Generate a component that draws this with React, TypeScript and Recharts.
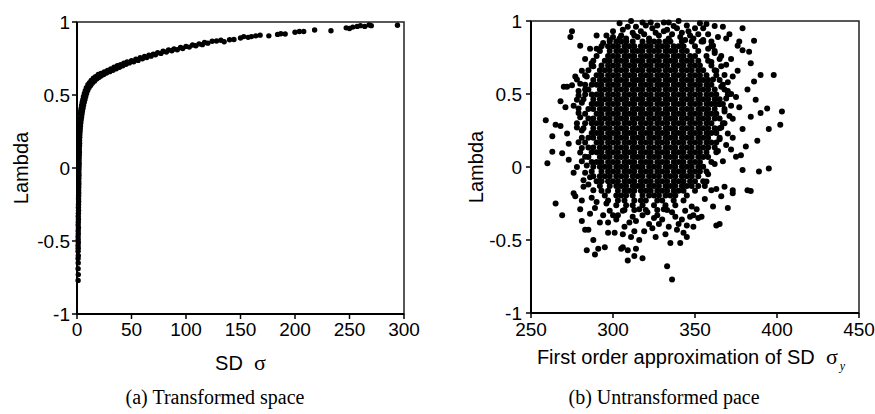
import React from 'react';
import { ScatterChart, Scatter, XAxis, YAxis, ReferenceArea, Label } from 'recharts';

// (a) transformed space: SD sigma vs lambda
const leftPoints: [number, number][] = [
  [1, -0.77], [1.2, -0.73], [1, -0.69], [1.1, -0.65], [1, -0.62], [1.2, -0.6], [1, -0.57], [1.1, -0.55],
  [1, -0.53], [1.2, -0.51], [1.1, -0.49], [1, -0.47], [1.2, -0.45], [1.1, -0.43], [1.3, -0.41], [1.1, -0.39],
  [1.2, -0.37], [1.3, -0.35], [1.2, -0.33], [1.3, -0.31], [1.4, -0.29], [1.3, -0.27], [1.4, -0.25], [1.5, -0.23],
  [1.4, -0.21], [1.5, -0.19], [1.6, -0.17], [1.5, -0.15], [1.6, -0.13], [1.7, -0.11], [1.6, -0.09], [1.7, -0.07],
  [1.8, -0.05], [1.7, -0.03], [1.8, -0.01], [1.9, 0.01], [2, 0.03], [1.9, 0.05], [2, 0.07], [2.1, 0.09],
  [2.2, 0.11], [2.1, 0.13], [2.3, 0.15], [2.4, 0.17], [2.3, 0.19], [2.5, 0.21], [2.6, 0.23], [2.8, 0.25],
  [3, 0.27], [3.2, 0.29], [3.5, 0.31], [3.8, 0.33], [2.2, 0.28], [2.4, 0.31], [2.7, 0.34], [3, 0.37],
  [4.2, 0.35], [4.6, 0.37], [3.4, 0.39], [5, 0.39], [3.8, 0.41], [5.5, 0.41], [4.3, 0.43], [6, 0.43],
  [4.8, 0.45], [6.6, 0.45], [5.4, 0.47], [7.3, 0.47], [6, 0.49], [8, 0.49], [6.8, 0.51], [8.8, 0.51],
  [7.6, 0.53], [9.8, 0.53], [8.6, 0.55], [11, 0.55], [10, 0.57], [12.5, 0.565], [11.5, 0.585], [14, 0.58],
  [13, 0.6], [16, 0.595], [15, 0.615], [18, 0.61], [17, 0.625], [20, 0.62], [19.5, 0.64], [22, 0.63],
  [22, 0.648], [24.5, 0.64], [25, 0.658], [27, 0.65], [28, 0.668], [30, 0.66], [31, 0.678], [33, 0.67],
  [34, 0.69], [36, 0.68], [37, 0.7], [39, 0.69], [40, 0.708], [42, 0.7], [43, 0.717], [45, 0.71],
  [46, 0.726], [48, 0.72], [50, 0.735], [52, 0.728], [54, 0.745], [56, 0.737], [58, 0.755], [60, 0.748],
  [62, 0.764], [64, 0.757], [66, 0.772], [68, 0.766], [70, 0.78], [72, 0.775], [74, 0.79], [77, 0.785],
  [79, 0.8], [82, 0.795], [84, 0.808], [87, 0.803], [89, 0.815], [92, 0.81], [95, 0.825], [97, 0.818],
  [100, 0.833], [103, 0.828], [106, 0.842], [109, 0.837], [112, 0.85], [115, 0.845], [117, 0.86], [120, 0.855],
  [124, 0.868], [128, 0.87], [132, 0.875], [135, 0.865], [140, 0.878], [144, 0.88], [150, 0.89], [153, 0.9],
  [157, 0.895], [160, 0.9], [164, 0.905], [168, 0.91], [176, 0.905], [184, 0.915], [187, 0.92], [191, 0.918],
  [200, 0.93], [204, 0.935], [208, 0.935], [218, 0.945], [233, 0.94], [247, 0.96], [250, 0.955], [253, 0.965],
  [257, 0.97], [260, 0.975], [264, 0.97], [268, 0.98], [270, 0.975], [294, 0.978],
];

// (b) untransformed: dense middle read row by row (lambda of the row, then sigma_y values)
const coreRowY = [
  0.86, 0.827, 0.794, 0.761, 0.728, 0.695, 0.662, 0.629, 0.596, 0.563, 0.53, 0.497, 0.464, 0.431, 0.398, 0.365,
  0.332, 0.299, 0.266, 0.233, 0.2, 0.167, 0.134, 0.101, 0.068, 0.035, 0.002, -0.031, -0.064, -0.097, -0.13,
  -0.163, -0.196, -0.229, -0.262, -0.295,
];
const coreRowX = [
  [298, 302, 305, 308, 312, 318, 322, 325, 328, 332, 335, 342, 348, 355],
  [293, 297, 300, 303, 307, 310, 313, 317, 320, 323, 327, 330, 333, 337, 340, 343, 350, 360],
  [292, 298, 302, 305, 308, 312, 315, 318, 322, 325, 328, 332, 335, 338, 342, 345, 352, 362],
  [290, 297, 300, 303, 307, 310, 313, 317, 320, 323, 327, 330, 333, 337, 340, 343, 347, 350, 357],
  [288, 295, 298, 302, 305, 308, 312, 315, 318, 322, 325, 328, 332, 335, 338, 342, 345, 348, 352, 358],
  [287, 293, 297, 300, 303, 307, 310, 313, 317, 320, 323, 327, 330, 333, 337, 340, 343, 347, 350, 353, 360],
  [285, 292, 295, 298, 302, 305, 308, 312, 315, 318, 322, 325, 328, 332, 335, 338, 342, 345, 348, 352, 355, 362],
  [283, 290, 293, 297, 300, 303, 307, 310, 313, 317, 320, 323, 327, 330, 333, 337, 340, 343, 347, 350, 353, 357, 363],
  [288, 292, 295, 298, 302, 305, 308, 312, 315, 318, 322, 325, 328, 332, 335, 338, 342, 345, 348, 352, 355, 358, 365],
  [283, 287, 290, 293, 297, 300, 303, 307, 310, 313, 317, 320, 323, 327, 330, 333, 337, 340, 343, 347, 350, 353, 357, 360, 367],
  [285, 292, 295, 298, 302, 305, 308, 312, 315, 318, 322, 325, 328, 332, 335, 338, 342, 345, 348, 352, 355, 358, 362, 368],
  [283, 287, 290, 293, 297, 300, 303, 307, 310, 313, 317, 320, 323, 327, 330, 333, 337, 340, 343, 347, 350, 353, 357, 360, 363, 370],
  [282, 288, 292, 295, 298, 302, 305, 308, 312, 315, 318, 322, 325, 328, 332, 335, 338, 342, 345, 348, 352, 355, 358, 362, 365],
  [287, 290, 293, 297, 300, 303, 307, 310, 313, 317, 320, 323, 327, 330, 333, 337, 340, 343, 347, 350, 353, 357, 360, 363, 367],
  [285, 288, 292, 295, 298, 302, 305, 308, 312, 315, 318, 322, 325, 328, 332, 335, 338, 342, 345, 348, 352, 355, 358, 362, 368],
  [283, 290, 293, 297, 300, 303, 307, 310, 313, 317, 320, 323, 327, 330, 333, 337, 340, 343, 347, 350, 353, 357, 360, 363],
  [285, 288, 292, 295, 298, 302, 305, 308, 312, 315, 318, 322, 325, 328, 332, 335, 338, 342, 345, 348, 352, 355, 358, 362, 365],
  [283, 287, 290, 293, 297, 300, 303, 307, 310, 313, 317, 320, 323, 327, 330, 333, 337, 340, 343, 347, 350, 353, 357, 360, 367],
  [282, 288, 292, 295, 298, 302, 305, 308, 312, 315, 318, 322, 325, 328, 332, 335, 338, 342, 345, 348, 352, 355, 358, 362, 365],
  [287, 290, 293, 297, 300, 303, 307, 310, 313, 317, 320, 323, 327, 330, 333, 337, 340, 343, 347, 350, 353, 357, 360, 363],
  [285, 288, 292, 295, 298, 302, 305, 308, 312, 315, 318, 322, 325, 328, 332, 335, 338, 342, 345, 348, 352, 355, 358, 365],
  [283, 290, 293, 297, 300, 303, 307, 310, 313, 317, 320, 323, 327, 330, 333, 337, 340, 343, 347, 350, 353, 357, 360, 363],
  [285, 288, 292, 295, 298, 302, 305, 308, 312, 315, 318, 322, 325, 328, 332, 335, 338, 342, 345, 348, 352, 355, 358, 362],
  [287, 290, 293, 297, 300, 303, 307, 310, 313, 317, 320, 323, 327, 330, 333, 337, 340, 343, 347, 350, 353, 357, 363],
  [285, 292, 295, 298, 302, 305, 308, 312, 315, 318, 322, 325, 328, 332, 335, 338, 342, 345, 348, 352, 355, 358],
  [287, 290, 293, 297, 300, 303, 307, 310, 313, 317, 320, 323, 327, 330, 333, 337, 340, 343, 347, 350, 353, 360],
  [288, 292, 295, 298, 302, 305, 308, 312, 315, 318, 322, 325, 328, 332, 335, 338, 342, 345, 348, 352, 355],
  [287, 293, 297, 300, 303, 307, 310, 313, 317, 320, 323, 327, 330, 333, 337, 340, 343, 347, 350, 353, 357],
  [288, 292, 295, 298, 302, 305, 308, 312, 315, 318, 322, 325, 328, 332, 335, 338, 342, 345, 348, 352],
  [290, 293, 297, 300, 303, 307, 310, 313, 317, 320, 323, 327, 330, 333, 337, 340, 343, 347, 350, 355],
  [292, 298, 302, 305, 308, 312, 315, 318, 322, 325, 328, 332, 335, 338, 342, 345, 348, 352],
  [293, 297, 303, 307, 310, 313, 317, 320, 323, 327, 330, 333, 337, 340, 343, 350],
  [295, 302, 305, 308, 312, 318, 322, 325, 328, 332, 335, 338, 345],
  [297, 303, 307, 313, 317, 320, 327, 330, 337, 343],
  [302, 308, 312, 318, 325, 332, 338],
  [307, 313, 320, 327, 333],
];

// (b) loose points along the edges of the dense middle
const fringePoints: [number, number][] = [
  [300, 0.89], [305, 0.9], [308, 0.88], [312, 0.92], [315, 0.89], [319, 0.91], [322, 0.88], [324, 0.95],
  [328, 0.9], [331, 0.93], [334, 0.88], [336, 0.91], [339, 0.95], [341, 0.89], [344, 0.87], [346, 0.93],
  [349, 0.88], [352, 0.91], [354, 0.86], [355, 0.95], [360, 0.86], [314, 0.96], [327, 0.97], [345, 0.97],
  [318, 0.99], [323, 0.99], [334, 0.99], [340, 1.0], [306, 0.94], [298, 0.87],
  [358, 0.81], [362, 0.78], [365, 0.74], [360, 0.72], [366, 0.69], [363, 0.66], [368, 0.63], [361, 0.6],
  [370, 0.58], [366, 0.55], [372, 0.5], [369, 0.47], [365, 0.43], [372, 0.42], [368, 0.38], [373, 0.33],
  [366, 0.27], [370, 0.23], [365, 0.19], [369, 0.15], [364, 0.11], [367, 0.04], [362, 0.02], [358, -0.05],
  [356, -0.13],
  [280, 0.57], [283, 0.53], [279, 0.49], [281, 0.44], [279, 0.4], [280, 0.34], [278, 0.27], [281, 0.25],
  [279, 0.17], [281, 0.13], [283, 0.07], [281, 0.04], [284, 0.01], [283, -0.04], [286, -0.07], [285, -0.12],
  [288, -0.16], [287, -0.21], [290, -0.24], [289, -0.28],
  [300, -0.33], [306, -0.3], [312, -0.34], [316, -0.29], [321, -0.31], [327, -0.33], [331, -0.29], [338, -0.34],
  [344, -0.3], [349, -0.33], [297, -0.38], [307, -0.41], [314, -0.37], [324, -0.42], [328, -0.39], [334, -0.41],
  [340, -0.39], [313, -0.44], [306, -0.46], [332, -0.46], [349, -0.41], [352, -0.35],
];

// (b) the scattered points further out
const outerPoints: [number, number][] = [
  [304, 0.985], [311, 1.0], [320, 0.97], [331, 0.99], [337, 0.965], [353, 0.985], [357, 0.98], [362, 0.965],
  [367, 0.96], [371, 0.91], [317, 0.93], [326, 0.92], [342, 0.92], [347, 0.9], [358, 0.91], [364, 0.89],
  [369, 0.88], [379, 0.95], [377, 0.86], [386, 0.865], [383, 0.79], [379, 0.8], [376, 0.83], [384, 0.71],
  [376, 0.66], [372, 0.74], [369, 0.7], [373, 0.62], [275, 0.93], [274, 0.89], [290, 0.9], [296, 0.9],
  [294, 0.85], [290, 0.81], [286, 0.81], [280, 0.83], [287, 0.71], [288, 0.69], [284, 0.62], [281, 0.66],
  [278, 0.46], [279, 0.52], [277, 0.62], [278, 0.6], [275, 0.56], [272, 0.55], [270, 0.55], [271, 0.41],
  [268, 0.45], [268, 0.28], [265, 0.29], [259, 0.32], [263, 0.21], [263, 0.105], [269, 0.094], [272, 0.23],
  [273, 0.16], [273, 0.05], [276, -0.04], [260, 0.025], [265, -0.25], [269, -0.33], [276, -0.18], [277, -0.2],
  [280, -0.29], [281, -0.37], [283, -0.43], [284, -0.57], [288, -0.5], [289, -0.6], [291, -0.56], [295, -0.55],
  [297, -0.45], [294, -0.33], [296, -0.25], [301, -0.45], [302, -0.36], [305, -0.56], [306, -0.55], [309, -0.64],
  [309, -0.57], [313, -0.61], [318, -0.625], [314, -0.56], [311, -0.48], [316, -0.5], [319, -0.44], [322, -0.39],
  [326, -0.48], [330, -0.36], [333, -0.68], [336, -0.77], [335, -0.52], [341, -0.52], [343, -0.45], [345, -0.48],
  [339, -0.43], [345, -0.4], [347, -0.34], [351, -0.29], [354, -0.34], [363, -0.4], [365, -0.39], [370, -0.28],
  [373, -0.16], [373, -0.18], [368, -0.135], [363, -0.15], [360, -0.16], [357, -0.1], [382, -0.16], [384, -0.165],
  [395, -0.01], [389, -0.03], [379, -0.02], [388, 0.18], [395, 0.26], [402, 0.29], [403, 0.38], [394, 0.4],
  [390, 0.37], [384, 0.345], [387, 0.46], [382, 0.53], [386, 0.585], [390, 0.63], [398, 0.63], [375, 0.48],
  [377, 0.41], [379, 0.26], [381, 0.14], [378, 0.08], [375, 0.07], [372, 0.12], [282, -0.09], [282, -0.135],
  [281, -0.23], [286, -0.32], [285, -0.43], [292, -0.38], [298, -0.3], [303, -0.33], [310, -0.38], [318, -0.33],
  [325, -0.35], [336, -0.31], [342, -0.36], [348, -0.27], [356, -0.22], [361, -0.27], [366, -0.2], [368, 0.3],
  [371, 0.35], [373, 0.2], [370, 0.52], [366, 0.76], [361, 0.83], [355, 0.87], [350, 0.95], [333, 0.94],
  [313, 0.9], [304, 0.88], [300, 0.93], [309, 0.96], [279, 0.37], [278, 0.3], [280, 0.1], [278, 0.0],
  [281, 0.2], [276, 0.42], [283, 0.74],
];

const leftTicksX = [0, 50, 100, 150, 200, 250, 300];
const rightTicksX = [250, 300, 350, 400, 450];
const lambdaTicks = [-1, -0.5, 0, 0.5, 1];

const leftData = leftPoints.map(([x, y]) => ({ x, y }));
const rightData = [
  ...coreRowY.flatMap((y, i) => coreRowX[i].map((x) => ({ x, y }))),
  ...fringePoints.map(([x, y]) => ({ x, y })),
  ...outerPoints.map(([x, y]) => ({ x, y })),
];

const sans = '"Liberation Sans", Arial, sans-serif';
const serif = '"Liberation Serif", "Times New Roman", serif';
const tickStyle = { fill: '#000', fontSize: 19, fontFamily: sans };

const SmallDot = (props: any) => <circle cx={props.cx} cy={props.cy} r={2.7} fill="#000" />;
const Dot = (props: any) => <circle cx={props.cx} cy={props.cy} r={3} fill="#000" />;

const lambdaLabel = (dx: number) => (props: any) => {
  const vb = props.viewBox;
  const cx = vb.x + dx;
  const cy = vb.y + vb.height / 2;
  return (
    <text x={cx} y={cy} transform={`rotate(-90, ${cx}, ${cy})`} textAnchor="middle" dominantBaseline="central"
      fontSize={20} fontFamily={sans} fill="#000">Lambda</text>
  );
};

const sdLabel = (props: any) => {
  const vb = props.viewBox;
  return (
    <text x={vb.x + vb.width / 2} y={vb.y + 56} textAnchor="middle" fontSize={20} fontFamily={sans} fill="#000">
      SD{'\u00a0\u00a0'}<tspan fontFamily={serif} fontSize={22}>σ</tspan>
    </text>
  );
};

const approxLabel = (props: any) => {
  const vb = props.viewBox;
  return (
    <text x={vb.x + vb.width / 2 - 4} y={vb.y + 51} textAnchor="middle" fontSize={20} fontFamily={sans} fill="#000">
      First order approximation of SD{'\u00a0\u00a0'}
      <tspan fontFamily={serif} fontSize={22}>σ</tspan>
      <tspan fontFamily={serif} fontStyle="italic" fontSize={12} dx={2} dy={6}>y</tspan>
    </text>
  );
};

const axisProps = {
  type: 'number' as const,
  axisLine: { stroke: '#000', strokeWidth: 2 },
  tickLine: { stroke: '#000', strokeWidth: 1.5 },
  tick: tickStyle,
  tickSize: 5,
};

const App = () => (
  <div style={{ position: 'absolute', left: 0, top: 0, width: 875, height: 414, background: '#fff' }}>
    <div style={{ position: 'absolute', left: 0, top: 0 }}>
      <ScatterChart width={440} height={380} margin={{ top: 22, right: 36, bottom: 36, left: 37 }}>
        <XAxis dataKey="x" {...axisProps} domain={[0, 300]} ticks={leftTicksX} height={30} interval={0} tickMargin={4}>
          <Label content={sdLabel} />
        </XAxis>
        <YAxis dataKey="y" {...axisProps} domain={[-1, 1]} ticks={lambdaTicks} width={40} interval={0}
          tickFormatter={(v) => String(v)}>
          <Label content={lambdaLabel(-16)} />
        </YAxis>
        <ReferenceArea x1={0} x2={300} y1={-1} y2={1} fill="none" stroke="#222" strokeWidth={1.5} />
        <Scatter data={leftData} shape={SmallDot} isAnimationActive={false} />
      </ScatterChart>
    </div>
    <div style={{ position: 'absolute', left: 440, top: 0 }}>
      <ScatterChart width={435} height={380} margin={{ top: 21, right: 16, bottom: 37, left: 51 }}>
        <XAxis dataKey="x" {...axisProps} domain={[250, 450]} ticks={rightTicksX} height={30} interval={0} tickMargin={5}>
          <Label content={approxLabel} />
        </XAxis>
        <YAxis dataKey="y" {...axisProps} domain={[-1, 1]} ticks={lambdaTicks} width={40} interval={0}
          tickMargin={4} tickFormatter={(v) => String(v)}>
          <Label content={lambdaLabel(-15)} />
        </YAxis>
        <ReferenceArea x1={250} x2={450} y1={-1} y2={1} fill="none" stroke="#222" strokeWidth={1.5} />
        <Scatter data={rightData} shape={Dot} isAnimationActive={false} />
      </ScatterChart>
    </div>
    <div style={{ position: 'absolute', left: 65, top: 387, width: 300, textAlign: 'center', fontFamily: serif,
      fontSize: 20, lineHeight: 1 }}>(a) Transformed space</div>
    <div style={{ position: 'absolute', left: 514, top: 387, width: 300, textAlign: 'center', fontFamily: serif,
      fontSize: 20, lineHeight: 1 }}>(b) Untransformed pace</div>
  </div>
);

export default App;
